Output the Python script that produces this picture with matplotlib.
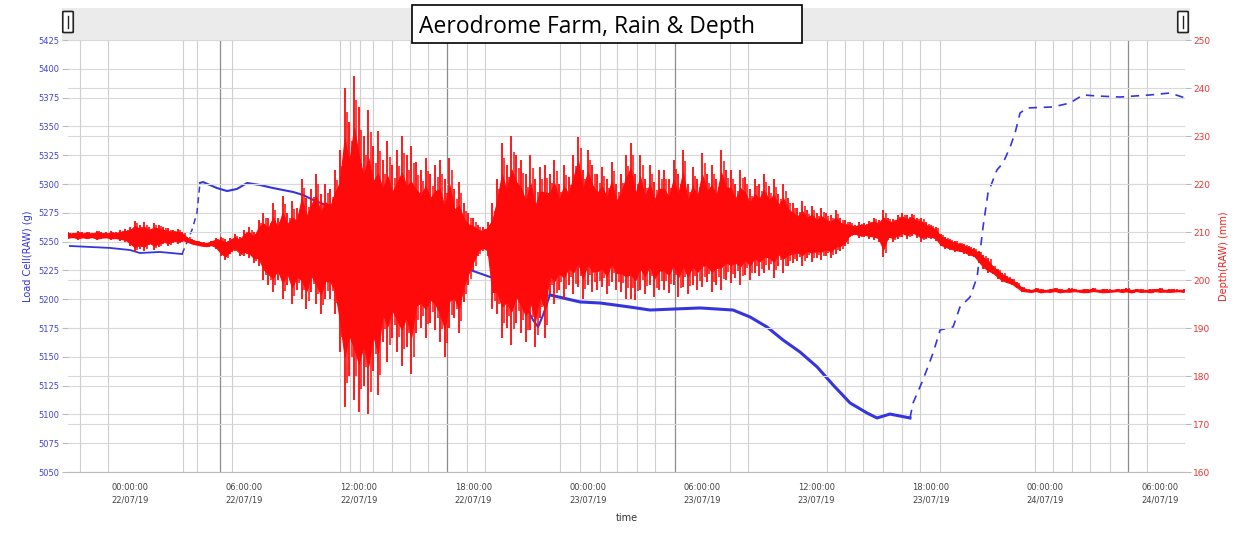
import numpy as np
import matplotlib
matplotlib.use("Agg")
import matplotlib.pyplot as plt
from matplotlib.patches import Rectangle, FancyBboxPatch

# ---------------- data ----------------
title = "Aerodrome Farm, Rain & Depth"
x_label = "time"
left_label = "Load Cell(RAW) (g)"
right_label = "Depth(RAW) (mm)"

# hours relative to 00:00:00 22/07/19
xtick_hours = [0, 6, 12, 18, 24, 30, 36, 42, 48, 54]
xtick_labels = ["00:00:00\n22/07/19", "06:00:00\n22/07/19", "12:00:00\n22/07/19",
                "18:00:00\n22/07/19", "00:00:00\n23/07/19", "06:00:00\n23/07/19",
                "12:00:00\n23/07/19", "18:00:00\n23/07/19", "00:00:00\n24/07/19",
                "06:00:00\n24/07/19"]
left_ticks = [5050, 5075, 5100, 5125, 5150, 5175, 5200, 5225, 5250, 5275,
              5300, 5325, 5350, 5375, 5400, 5425]
right_ticks = [160, 170, 180, 190, 200, 210, 220, 230, 240, 250]

# vertical event lines (hours)
event_lines = [-2.62, -1.15, 2.78, 3.51, 5.35, 11.01, 11.54, 12.06, 12.74, 13.74,
               14.68, 15.63, 17.67, 18.62, 22.55, 23.60, 24.65, 25.54, 26.59,
               27.53, 31.46, 32.41, 36.55, 37.49, 38.44, 39.49, 40.48, 41.43,
               42.48, 47.46, 48.40, 49.40, 50.34, 51.39, 53.33]
event_lines_major = [4.72, 16.62, 28.58, 52.33]

# load cell series (blue, left axis)
blue_t = [-3.15, -1.05, 0.0, 0.52, 1.57, 2.73, 3.25, 3.51, 3.67, 3.83, 4.56, 5.09,
          5.61, 6.14, 6.82, 7.50, 8.02, 8.55, 9.07, 9.60, 10.12, 10.85, 14.16,
          16.78, 17.99, 19.04, 20.19, 21.13, 21.40, 21.66, 22.02, 23.60, 24.65,
          26.22, 27.27, 29.89, 31.62, 32.51, 33.40, 34.24, 35.13, 36.03, 36.87,
          37.76, 38.65, 39.17, 39.85, 40.90, 41.06, 41.58, 42.11, 42.48, 43.16,
          43.52, 44.05, 44.42, 44.73, 44.99, 45.46, 45.78, 46.15, 46.41, 46.67,
          47.04, 48.40, 49.29, 49.97, 50.71, 51.91, 53.49, 54.54, 55.32]
blue_v = [5246.2, 5244.5, 5242.7, 5240.1, 5241.0, 5239.2, 5260.1, 5274.8, 5300.9,
          5301.7, 5296.5, 5293.9, 5295.7, 5300.9, 5299.1, 5296.5, 5294.8, 5293.1,
          5290.5, 5286.2, 5282.7, 5280.0, 5251.4, 5232.3, 5224.5, 5218.4, 5212.3,
          5182.0, 5175.9, 5186.3, 5203.7, 5197.6, 5196.7, 5193.2, 5190.6, 5192.4,
          5190.6, 5184.6, 5175.9, 5164.6, 5154.2, 5141.2, 5125.5, 5109.9, 5101.2,
          5096.9, 5100.3, 5096.9, 5109.9, 5129.9, 5153.3, 5173.3, 5175.9, 5193.2,
          5201.9, 5219.3, 5262.7, 5292.2, 5312.2, 5318.2, 5332.1, 5344.3, 5361.6,
          5366.0, 5366.9, 5370.3, 5377.3, 5376.4, 5375.5, 5377.3, 5379.0, 5374.7]

# depth series (red, right axis): per-sample high / low readings, every 15 min from -3.25 h
red_start = -3.25
red_step = 0.25
red_hi = [
    210.0, 209.8, 210.2, 209.9, 210.1, 209.8, 210.3, 210.0, 209.9, 210.2, 210.0, 210.4, 210.6,
    211.0, 212.3, 211.5, 212.0, 211.0, 211.8,
    211.5, 211.0, 210.8, 210.5, 210.6, 210.0,
    209.0, 208.5, 208.2, 208.0, 207.8, 208.2,
    208.8, 209.0, 208.5, 208.8, 209.5, 209.0,
    210.5, 211.0, 210.0, 212.5, 214.0, 213.0,
    216.0, 213.0, 217.5, 214.0, 216.5, 215.0,
    221.0, 217.0, 219.0, 222.0, 218.0, 220.0,
    219.0, 223.0, 227.0,
    240.0, 233.0, 242.5,
    236.0, 230.0, 235.5, 228.0, 231.0,
    225.0, 229.0, 224.0, 227.0,
    230.0, 226.0, 228.0, 224.5,
    223.0, 225.5, 222.0, 224.0,
    225.0, 221.0, 225.5, 219.0, 220.5,
    216.0, 214.0, 213.0,
    211.5, 211.0, 212.0,
    216.0, 221.0,
    228.5, 224.0, 230.0, 226.0,
    225.0, 222.0, 226.0, 221.0, 223.5, 224.0,
    222.0, 225.0, 220.0, 224.0, 221.5,
    226.0, 229.8, 223.0, 227.0, 224.0, 222.0,
    223.5, 221.0, 224.5, 220.0, 222.0, 226.0,
    228.5, 222.0, 226.0, 221.0, 224.0, 220.5, 223.0,
    223.0, 221.0, 225.0, 222.0, 227.0, 220.0, 223.5, 221.0,
    226.5, 222.0, 224.0, 221.0, 227.0, 223.0,
    222.9, 220.0, 223.0, 221.5, 219.0, 221.0, 220.0,
    222.0, 219.5, 221.0, 218.0, 220.0, 217.0,
    216.0, 215.0, 216.5, 214.5, 215.5, 214.0,
    215.0, 214.0, 213.5, 214.5, 213.0, 212.5,
    212.0, 211.5, 212.0, 211.8, 212.3,
    213.0, 212.5, 214.6, 213.0, 212.8, 213.5,
    214.0, 213.5, 213.8, 213.0,
    213.0, 212.0, 211.5, 211.0,
    209.5, 209.0, 208.5, 208.2, 207.8,
    207.5, 207.0, 206.6,
    206.0, 205.2, 204.5,
    203.0, 202.3, 201.5, 200.8,
    200.3, 199.5, 198.6,
    198.2, 198.0, 198.3, 198.1, 198.0, 198.2, 198.4, 198.1, 198.0, 198.3,
    198.1, 198.0, 198.2, 198.1, 198.3, 198.0, 198.2, 198.1, 198.0, 198.2,
    198.1, 198.3, 198.0, 198.2, 198.1, 198.0, 198.2, 198.1, 198.3, 198.0,
    198.2, 198.1, 198.0, 198.1]
red_lo = [
    208.6, 208.8, 208.4, 208.7, 208.5, 208.8, 208.3, 208.6, 208.7, 208.4, 208.5, 208.2, 208.0,
    207.0, 205.8, 206.5, 206.0, 207.2, 206.3,
    206.8, 207.5, 207.0, 207.8, 207.5, 208.0,
    207.8, 207.4, 207.2, 207.0, 206.9, 207.1,
    206.5, 205.0, 204.2, 205.5, 206.0, 205.0,
    205.0, 204.5, 203.5, 203.0, 200.0, 199.0,
    197.5, 200.0, 196.0, 199.0, 195.0, 198.0,
    196.0, 194.0, 197.5, 195.0, 193.0, 196.0,
    196.0, 193.0, 185.0,
    173.5, 180.0, 175.0,
    172.5, 178.0, 172.0, 181.0, 176.0,
    187.0, 183.0, 188.0, 185.0,
    182.0, 186.0, 180.5, 189.0,
    190.0, 188.0, 191.0, 189.5,
    187.0, 184.0, 190.0, 192.0, 189.0,
    195.5, 199.0, 202.0,
    205.0, 206.0, 205.0,
    194.0, 193.0,
    188.0, 190.0, 186.5, 191.0,
    189.0, 187.0, 189.5, 186.0, 192.0, 188.0,
    197.0, 195.0, 198.0, 196.0, 199.0,
    197.0, 198.5, 196.0, 199.0, 197.5, 198.0,
    198.5, 197.0, 199.5, 198.0, 197.5, 196.0,
    196.0, 195.8, 198.0, 197.0, 199.0, 196.5, 198.0,
    198.0, 197.3, 199.0, 196.5, 198.5, 197.0, 199.0, 198.0,
    198.5, 199.5, 197.5, 199.0, 198.0, 200.0,
    199.4, 200.5, 199.0, 201.0, 200.0, 201.5, 200.8,
    201.5, 202.0, 200.5, 203.0, 201.5, 203.0,
    203.5, 204.0, 203.0, 204.5, 203.8, 204.5,
    204.2, 205.0, 204.5, 205.5, 206.0, 207.0,
    209.0, 209.3, 208.8, 209.0, 208.6,
    208.3, 208.0, 204.8, 208.3, 208.0, 208.5,
    209.0, 208.5, 209.2, 208.8,
    208.0, 208.5, 208.6, 208.2,
    207.0, 206.5, 206.2, 205.9, 205.8,
    205.5, 205.0, 204.8,
    203.5, 202.2, 201.5,
    201.2, 200.3, 199.6, 199.3,
    199.0, 198.3, 197.6,
    197.5, 197.4, 197.6, 197.3, 197.5, 197.4, 197.6, 197.3, 197.5, 197.4,
    197.6, 197.5, 197.3, 197.4, 197.6, 197.5, 197.3, 197.4, 197.5, 197.6,
    197.4, 197.5, 197.3, 197.6, 197.4, 197.5, 197.3, 197.6, 197.4, 197.5,
    197.4, 197.5, 197.6, 197.4]

# ---------------- drawing ----------------
W, H = 1253, 539
fig = plt.figure(figsize=(W / 100, H / 100), dpi=100)
fig.patch.set_facecolor("white")

ax = fig.add_axes([68 / W, 1 - 472 / H, (1185 - 68) / W, (472 - 40) / H])
ax.patch.set_facecolor("white")
ax2 = ax.twinx()
ax2.patch.set_visible(False)

xmin, xmax = -3.25, 55.32
ax.set_xlim(xmin, xmax)
ax.set_ylim(5050, 5425)
ax2.set_ylim(160, 250)

# grid
for y in left_ticks:
    ax.axhline(y, color="#d9d9d9", lw=0.8, zorder=0)
for y in right_ticks:
    ax2.axhline(y, color="#d9d9d9", lw=0.8, zorder=0)
for xv in event_lines:
    ax.axvline(xv, color="#cfcfcf", lw=0.8, zorder=0)
for xv in event_lines_major:
    ax.axvline(xv, color="#8c8c8c", lw=0.9, zorder=0)

# blue series: continuous part solid, gap-filled parts dashed
bt = np.array(blue_t)
bv = np.array(blue_v)
blue = "#3535e0"
ax.plot(bt[:6], bv[:6], color=blue, lw=1.3, zorder=2)
ax.plot(bt[5:9], bv[5:9], color=blue, lw=1.1, ls=(0, (4, 3)), zorder=2)
ax.plot(bt[8:31], bv[8:31], color=blue, lw=1.5, zorder=2)
ax.plot(bt[30:48], bv[30:48], color=blue, lw=2.2, zorder=2)
ax.plot(bt[47:], bv[47:], color=blue, lw=1.2, ls=(0, (5, 4)), zorder=2)

# red series: dense core band plus individual spikes to the extreme readings
n = len(red_hi)
rt = red_start + red_step * np.arange(n)
hi = np.array(red_hi)
lo = np.array(red_lo)
mid = (hi + lo) / 2
half = (hi - lo) / 2
red = "#ff0a0a"
ax2.fill_between(rt, mid - 0.68 * half, mid + 0.68 * half, color=red, lw=0.8,
                 edgecolor=red, zorder=3)
ax2.vlines(rt, lo, hi, color=red, lw=1.3, zorder=3)
ax2.vlines(rt + red_step / 2, mid - 0.85 * half, mid + 0.85 * half, color=red, lw=1.1, zorder=3)

# ticks
ax.set_xticks(xtick_hours)
ax.set_xticklabels(xtick_labels, fontsize=6, color="#444444", linespacing=1.5)
ax.tick_params(axis="x", length=0, pad=8)
ax.set_yticks(left_ticks)
ax.set_yticklabels([str(v) for v in left_ticks], fontsize=6, color="#4444dd")
ax.tick_params(axis="y", length=4, color="#bbbbbb", pad=2)
ax2.set_yticks(right_ticks)
ax2.set_yticklabels([str(v) for v in right_ticks], fontsize=6.5, color="#ee3333")
ax2.tick_params(axis="y", length=4, color="#bbbbbb", pad=2)

for a in (ax, ax2):
    for s in a.spines.values():
        s.set_visible(False)
ax.spines["bottom"].set_visible(True)
ax.spines["bottom"].set_color("#bbbbbb")

ax.set_xlabel(x_label, fontsize=7, color="#333333", labelpad=6)
ax.set_ylabel(left_label, fontsize=7, color="#3333dd", labelpad=4)
ax2.set_ylabel(right_label, fontsize=7, color="#ee2222", labelpad=6)

# range-selector bar at the top
fig.patches.append(Rectangle((62 / W, 1 - 40 / H), (1190 - 62) / W, 32 / H,
                             transform=fig.transFigure, facecolor="#ebebeb",
                             edgecolor="none", zorder=0))
for hx in (64, 1179):
    fig.patches.append(FancyBboxPatch((hx / W, 1 - 32 / H), 8 / W, 20 / H,
                                      boxstyle="round,pad=0.001", transform=fig.transFigure,
                                      facecolor="white", edgecolor="#222222", lw=1.2))
    fig.lines.append(plt.Line2D([(hx + 4) / W, (hx + 4) / W], [1 - 28 / H, 1 - 16 / H],
                                transform=fig.transFigure, color="#222222", lw=1))

# title box
fig.patches.append(Rectangle((412 / W, 1 - 43 / H), (802 - 412) / W, 38 / H,
                             transform=fig.transFigure, facecolor="white",
                             edgecolor="black", lw=1.2, zorder=5))
fig.text(419 / W, 1 - 27 / H, title, fontsize=16.5, family="Open Sans",
         ha="left", va="center", color="black", zorder=6)

fig.savefig("out.png", dpi=100, facecolor="white")
